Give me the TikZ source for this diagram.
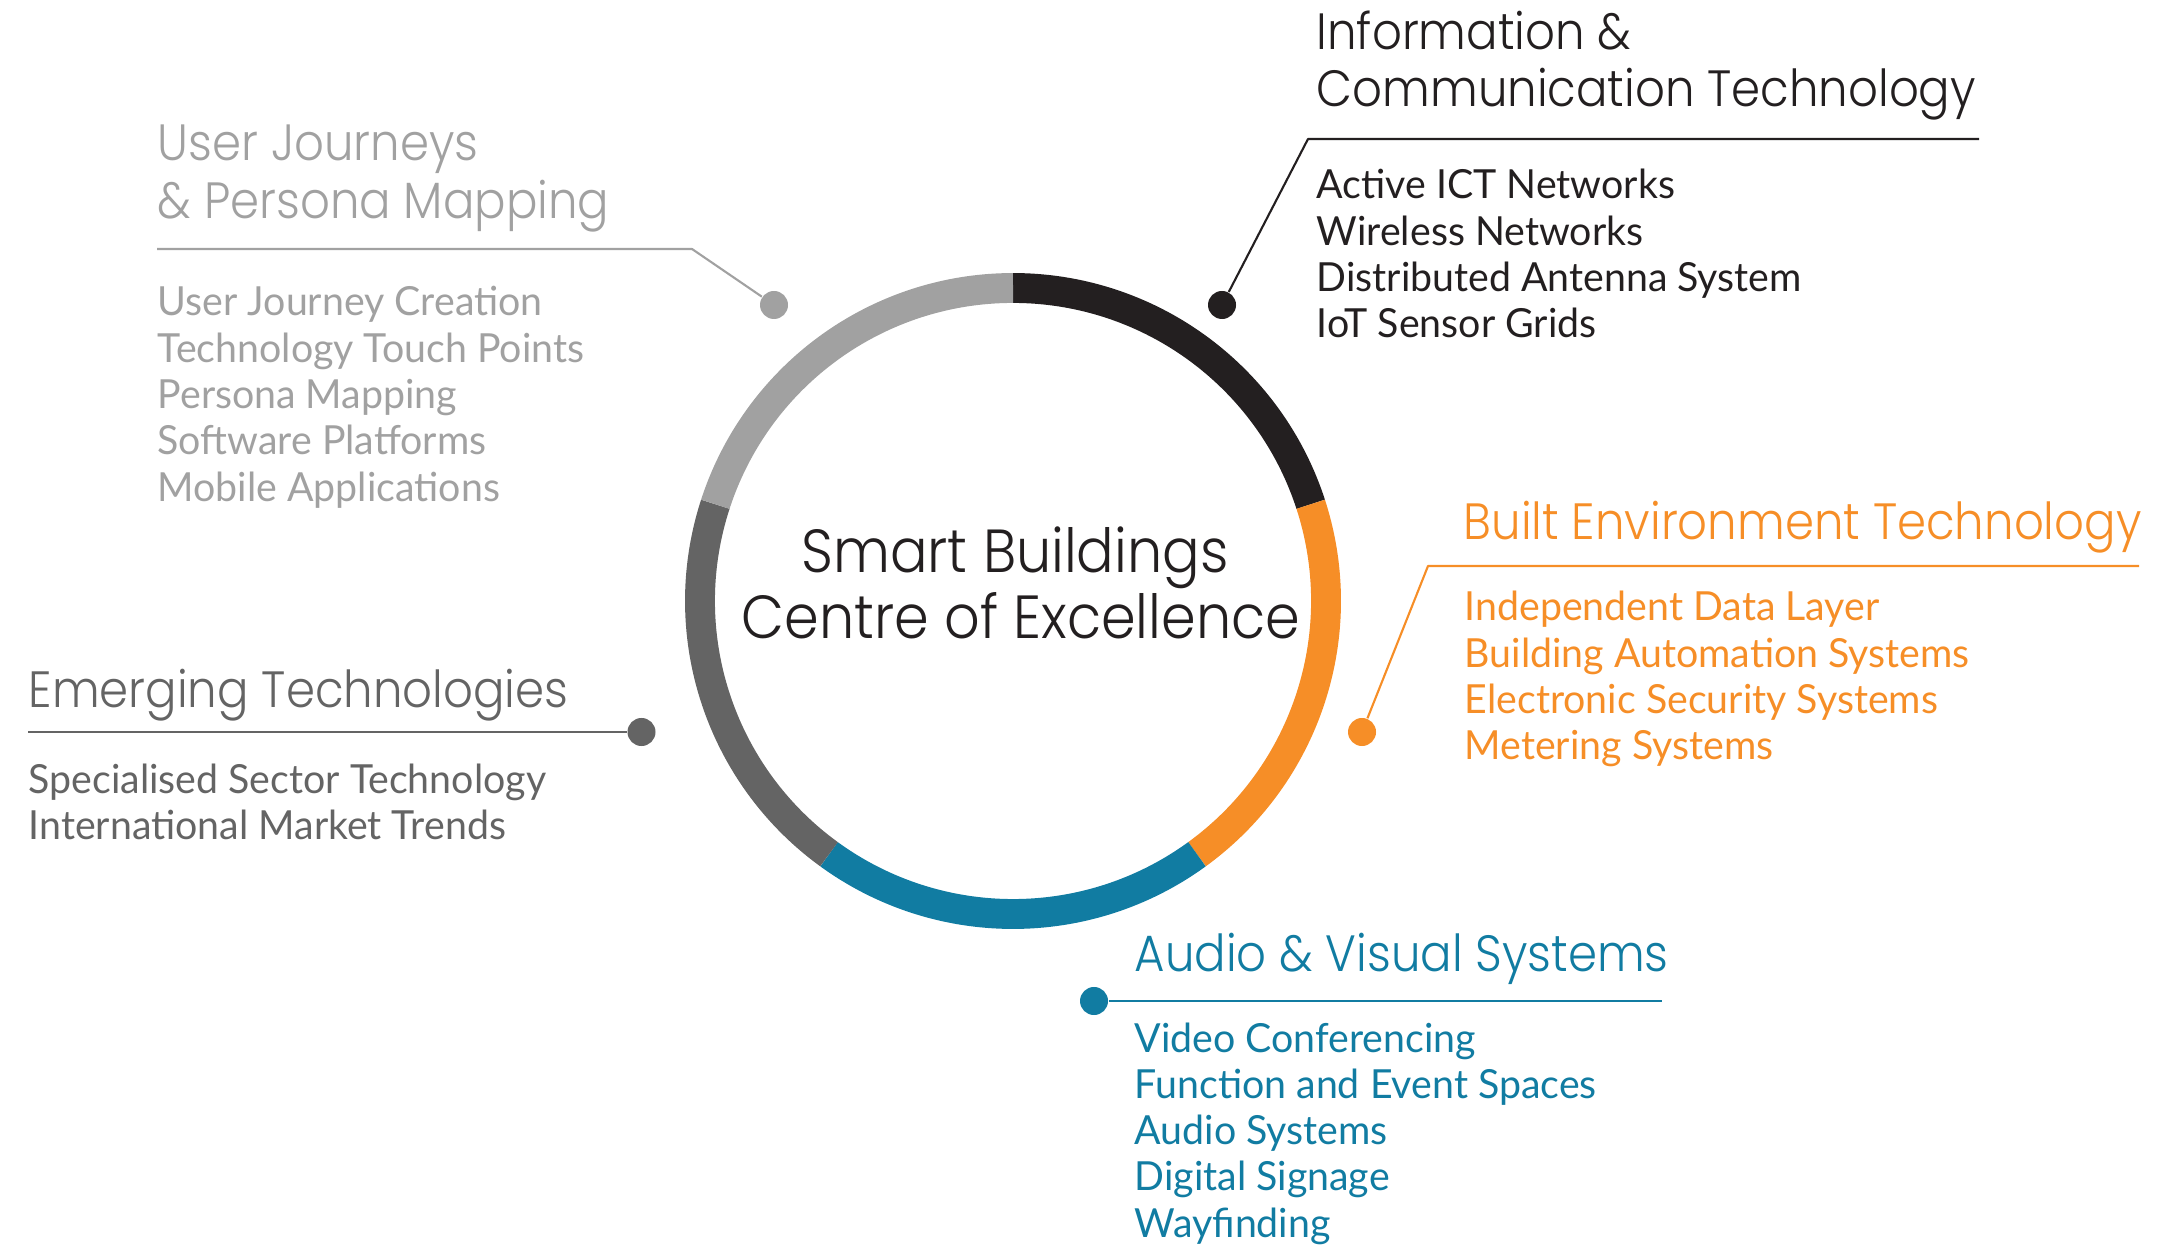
\documentclass[tikz,border=0pt]{standalone}
\usepackage{fontspec}
\IfFontExistsTF{Poppins Light}
  {\newfontfamily\headfont{Poppins Light}[FakeStretch=0.915]}
  {\newfontfamily\headfont{Poppins}[FakeStretch=0.915]}
\newfontfamily\listfont{Lato}[FakeStretch=0.98]
\definecolor{ujgray}{HTML}{A1A1A1}
\definecolor{emgray}{HTML}{646464}
\definecolor{ictblack}{HTML}{231F20}
\definecolor{betorange}{HTML}{F68E27}
\definecolor{avblue}{HTML}{117CA2}
\tikzset{
  ring/.style={line width=8.5pt},
  dot/.style={circle,inner sep=0pt,minimum size=0.28cm},
  lead/.style={line width=0.6pt},
  centre/.style={anchor=base,inner sep=0pt,font=\headfont\fontsize{17.3}{20}\selectfont},
  head/.style={anchor=base west,inner sep=0pt,font=\headfont\fontsize{14.5}{16}\selectfont},
  item/.style={anchor=base west,inner sep=0pt,font=\listfont\fontsize{11.4}{13}\selectfont}
}
\begin{document}
\begin{tikzpicture}[x=0.01cm,y=0.01cm,line join=round]
\useasboundingbox (0,0) rectangle (2182,1245);
% ring of five segments
\coordinate (ctr) at (1013,644);
\foreach \a/\c in {90/ictblack,18/betorange,-54/avblue,-126/emgray,-198/ujgray}
  \draw[ring,\c] (ctr) ++(\a:313) arc[start angle=\a,end angle=\a-72,radius=313];
\node[centre,ictblack] (sb) at (1015,672) {Smart Buildings};
\node[centre,ictblack] (coe) at (1021,606) {Centre of Excellence};

% user journeys
\node[dot,fill=ujgray] (ujdot) at (774,940) {};
\coordinate (ujbend) at (692,996);
\coordinate (ujend) at (157,996);
\draw[lead,ujgray] (ujdot) -- (ujbend) -- (ujend);
\node[head,ujgray] (uj1) at (157,1084) {User Journeys};
\node[head,ujgray] (uj2) at (157,1026.5) {\& Persona Mapping};
\foreach \t [count=\i] in {User Journey Creation, Technology Touch Points, Persona Mapping, Software Platforms, Mobile Applications}
  \node[item,ujgray] (ujit\i) at (157,{929-46.3*(\i-1)}) {\t};

% ict
\node[dot,fill=ictblack] (ictdot) at (1222,940) {};
\coordinate (ictbend) at (1308,1106);
\coordinate (ictend) at (1979,1106);
\draw[lead,ictblack] (ictdot) -- (ictbend) -- (ictend);
\node[head,ictblack] (ict1) at (1316,1195) {Information \&};
\node[head,ictblack] (ict2) at (1316,1138) {Communication Technology};
\foreach \t [count=\i] in {Active ICT Networks, Wireless Networks, Distributed Antenna System, IoT Sensor Grids}
  \node[item,ictblack] (ictit\i) at (1316,{1046-46.3*(\i-1)}) {\t};

% built environment
\node[dot,fill=betorange] (betdot) at (1362,513) {};
\coordinate (betbend) at (1428,679);
\coordinate (betend) at (2139,679);
\draw[lead,betorange] (betdot) -- (betbend) -- (betend);
\node[head,betorange] (bet) at (1463,705) {Built Environment Technology};
\foreach \t [count=\i] in {Independent Data Layer, Building Automation Systems, Electronic Security Systems, Metering Systems}
  \node[item,betorange] (betit\i) at (1464,{624-46.3*(\i-1)}) {\t};

% emerging
\node[dot,fill=emgray] (emdot) at (641.5,513) {};
\coordinate (emend) at (28,513);
\draw[lead,emgray] (emdot) -- (emend);
\node[head,emgray] (em) at (28,537) {Emerging Technologies};
\foreach \t [count=\i] in {Specialised Sector Technology, International Market Trends}
  \node[item,emgray] (emit\i) at (28,{452-46.3*(\i-1)}) {\t};

% audio visual
\node[dot,fill=avblue] (avdot) at (1094,244) {};
\coordinate (avend) at (1662,244);
\draw[lead,avblue] (avdot) -- (avend);
\node[head,avblue] (av) at (1134,274) {Audio \& Visual Systems};
\foreach \t [count=\i] in {Video Conferencing, Function and Event Spaces, Audio Systems, Digital Signage, Wayfinding}
  \node[item,avblue] (avit\i) at (1134,{193-46.3*(\i-1)}) {\t};
\end{tikzpicture}
\end{document}
